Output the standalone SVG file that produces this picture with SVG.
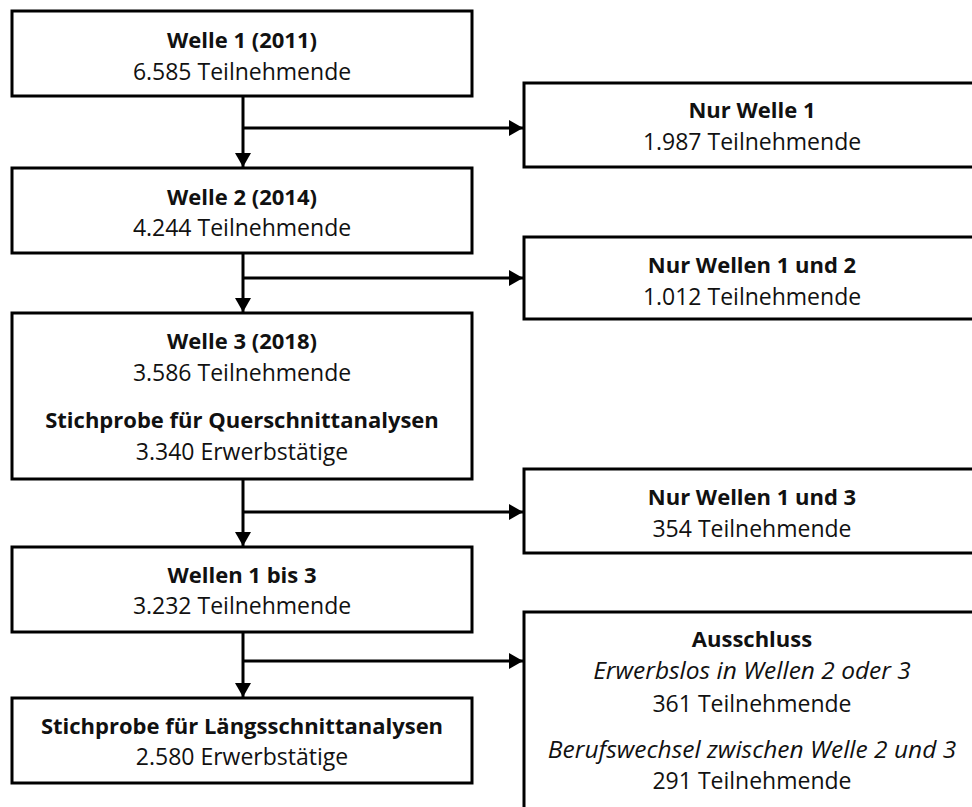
<svg xmlns="http://www.w3.org/2000/svg" width="972" height="807" viewBox="0 0 972 807">
<style>
.box{fill:#fff;stroke:#000;stroke-width:3}
text{font-family:"Open Sans","Noto Sans",sans-serif;font-size:23px;fill:#111;text-anchor:middle}
.b{font-weight:bold;font-size:22px}
.i{font-style:italic;font-size:24.5px}
.c{stroke:#000;stroke-width:3;fill:none}
</style>
<defs>
<marker id="ah" viewBox="0 0 14 16" refX="14" refY="8" markerWidth="14" markerHeight="16" markerUnits="userSpaceOnUse" orient="auto">
<path d="M0,0 L14,8 L0,16 z" fill="#000"/>
</marker>
</defs>
<rect width="972" height="807" fill="#fff"/>
<g id="connectors">
<line class="c" x1="243" y1="96" x2="243" y2="167" marker-end="url(#ah)"/>
<line class="c" x1="243" y1="128" x2="523" y2="128" marker-end="url(#ah)"/>
<line class="c" x1="243" y1="253" x2="243" y2="312" marker-end="url(#ah)"/>
<line class="c" x1="243" y1="278" x2="523" y2="278" marker-end="url(#ah)"/>
<line class="c" x1="243" y1="479" x2="243" y2="546" marker-end="url(#ah)"/>
<line class="c" x1="243" y1="512" x2="523" y2="512" marker-end="url(#ah)"/>
<line class="c" x1="243" y1="632" x2="243" y2="697" marker-end="url(#ah)"/>
<line class="c" x1="243" y1="661" x2="523" y2="661" marker-end="url(#ah)"/>
</g>
<g id="welle1">
<rect class="box" x="12" y="11" width="460" height="85"/>
<text class="b" x="242" y="48">Welle 1 (2011)</text>
<text x="242" y="80">6.585 Teilnehmende</text>
</g>
<g id="nur-welle1">
<rect class="box" x="524" y="83" width="456" height="84"/>
<text class="b" x="752" y="118">Nur Welle 1</text>
<text x="752" y="150">1.987 Teilnehmende</text>
</g>
<g id="welle2">
<rect class="box" x="12" y="168" width="460" height="85"/>
<text class="b" x="242" y="205">Welle 2 (2014)</text>
<text x="242" y="236">4.244 Teilnehmende</text>
</g>
<g id="nur-wellen12">
<rect class="box" x="524" y="237" width="456" height="82"/>
<text class="b" x="752" y="273">Nur Wellen 1 und 2</text>
<text x="752" y="305">1.012 Teilnehmende</text>
</g>
<g id="welle3">
<rect class="box" x="12" y="313" width="460" height="166"/>
<text class="b" x="242" y="349">Welle 3 (2018)</text>
<text x="242" y="381">3.586 Teilnehmende</text>
<text class="b" x="242" y="428">Stichprobe für Querschnittanalysen</text>
<text x="242" y="460">3.340 Erwerbstätige</text>
</g>
<g id="nur-wellen13">
<rect class="box" x="524" y="469" width="456" height="84"/>
<text class="b" x="752" y="505">Nur Wellen 1 und 3</text>
<text x="752" y="537">354 Teilnehmende</text>
</g>
<g id="wellen1bis3">
<rect class="box" x="12" y="547" width="460" height="85"/>
<text class="b" x="242" y="583">Wellen 1 bis 3</text>
<text x="242" y="614">3.232 Teilnehmende</text>
</g>
<g id="laengsschnitt">
<rect class="box" x="12" y="698" width="460" height="85"/>
<text class="b" x="242" y="734">Stichprobe für Längsschnittanalysen</text>
<text x="242" y="765">2.580 Erwerbstätige</text>
</g>
<g id="ausschluss">
<rect class="box" x="524" y="612" width="456" height="210"/>
<text class="b" x="752" y="647">Ausschluss</text>
<text class="i" x="752" y="679">Erwerbslos in Wellen 2 oder 3</text>
<text x="752" y="712">361 Teilnehmende</text>
<text class="i" x="752" y="758">Berufswechsel zwischen Welle 2 und 3</text>
<text x="752" y="789">291 Teilnehmende</text>
</g>
</svg>
